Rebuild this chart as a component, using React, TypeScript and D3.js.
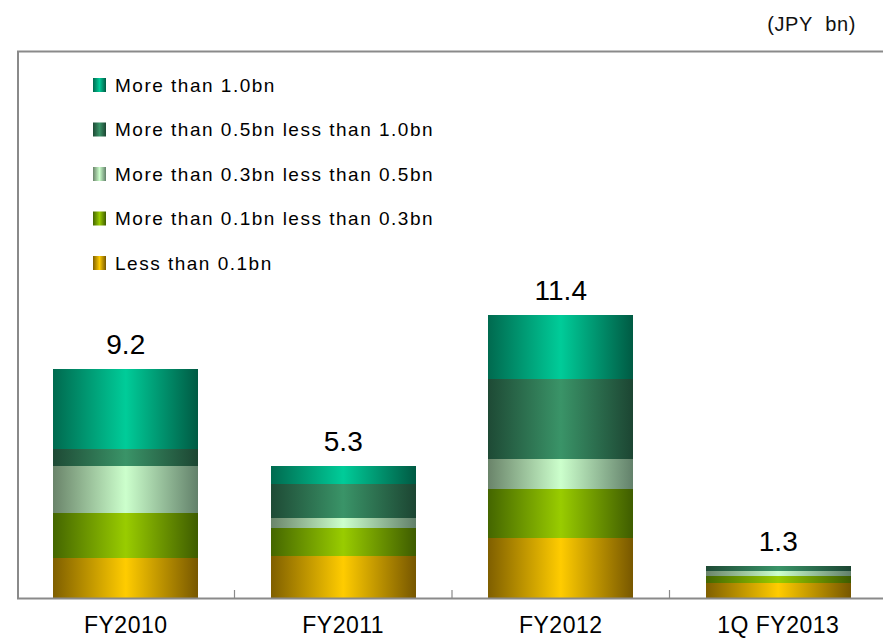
import React from "react";
import * as d3 from "d3";

// Categories and stacked series (JPY bn)
const categories = ["FY2010", "FY2011", "FY2012", "1Q FY2013"];
const lessThan01 = [1.6, 1.7, 2.4, 0.6];
const from01to03 = [1.8, 1.1, 2.0, 0.3];
const from03to05 = [1.9, 0.4, 1.2, 0.2];
const from05to10 = [0.7, 1.4, 3.2, 0.2];
const moreThan10 = [3.2, 0.7, 2.6, 0.0];

// Series keys and legend labels, bottom of the stack first
const seriesKeys = ["lt01", "r0103", "r0305", "r0510", "gt10"];
const seriesLabels = [
  "Less than 0.1bn",
  "More than 0.1bn less than 0.3bn",
  "More than 0.3bn less than 0.5bn",
  "More than 0.5bn less than 1.0bn",
  "More than 1.0bn",
];
const seriesValues = [lessThan01, from01to03, from03to05, from05to10, moreThan10];

// Cylinder-like horizontal shading: [edge left, centre, edge right]
const seriesShades = [
  ["#7f5f00", "#ffcc00", "#775700"],
  ["#446600", "#99cc00", "#3e5c00"],
  ["#6a846a", "#ccffcc", "#62806a"],
  ["#1e4a35", "#3a9468", "#1c4532"],
  ["#006a4f", "#00cc99", "#005a43"],
];

const unitLabel = "(JPY\u00a0 bn)";

const W = 883;
const H = 638;
const plotLeft = 17;
const plotRight = 887;
const plotTop = 51;
const plotBottom = 598;
const yMax = 22;

export default function App() {
  const rows = categories.map((c, i) => {
    const r: Record<string, any> = { category: c };
    seriesKeys.forEach((k, s) => (r[k] = seriesValues[s][i]));
    return r;
  });
  const stacked = d3.stack<any>().keys(seriesKeys)(rows);
  const totals = rows.map((r) => d3.sum(seriesKeys, (k) => r[k]));

  const x = d3
    .scaleBand<string>()
    .domain(categories)
    .range([plotLeft, plotRight])
    .paddingInner(1 / 3)
    .paddingOuter(1 / 6);
  const y = d3.scaleLinear().domain([0, yMax]).range([plotBottom, plotTop]);

  const step = x.step();
  const tickXs = d3.range(1, categories.length).map((i) => plotLeft + step * i);

  const font = "'Liberation Sans', Arial, sans-serif";

  return (
    <svg
      width={W}
      height={H}
      style={{ position: "absolute", left: 0, top: 0, display: "block", background: "#fff" }}
    >
      <defs>
        {seriesShades.map((sh, i) => (
          <linearGradient key={i} id={`shade-${i}`} x1="0" y1="0" x2="1" y2="0">
            <stop offset="0" stopColor={sh[0]} />
            <stop offset="0.5" stopColor={sh[1]} />
            <stop offset="1" stopColor={sh[2]} />
          </linearGradient>
        ))}
      </defs>

      {/* unit caption */}
      <text
        x={856}
        y={31}
        textAnchor="end"
        fontFamily={font}
        fontSize={20}
        letterSpacing={0.6}
        fill="#111"
      >
        {unitLabel}
      </text>

      {/* stacked bars */}
      {stacked.map((layer, s) => (
        <g key={layer.key} fill={`url(#shade-${s})`} shapeRendering="crispEdges">
          {layer.map((d, i) => {
            const h = y(d[0]) - y(d[1]);
            if (h <= 0) return null;
            return (
              <rect
                key={i}
                x={x(categories[i])}
                y={y(d[1])}
                width={x.bandwidth()}
                height={h}
              />
            );
          })}
        </g>
      ))}

      {/* frame */}
      <line x1={plotLeft} x2={W} y1={plotTop + 0.5} y2={plotTop + 0.5} stroke="#8a8a8a" strokeWidth={2} />
      <line x1={plotLeft + 1} x2={plotLeft + 1} y1={plotTop} y2={plotBottom + 1} stroke="#8a8a8a" strokeWidth={2} />
      <line x1={plotLeft} x2={W} y1={plotBottom + 0.5} y2={plotBottom + 0.5} stroke="#8a8a8a" strokeWidth={2} />
      {tickXs.map((tx, i) => (
        <line key={i} x1={tx} x2={tx} y1={plotBottom - 8} y2={plotBottom} stroke="#8a8a8a" strokeWidth={1.2} />
      ))}

      {/* totals */}
      {totals.map((t, i) => (
        <text
          key={i}
          x={(x(categories[i]) as number) + x.bandwidth() / 2}
          y={y(t) - 15}
          textAnchor="middle"
          fontFamily={font}
          fontSize={28}
          fill="#000"
        >
          {t.toFixed(1)}
        </text>
      ))}

      {/* category labels */}
      {categories.map((c) => (
        <text
          key={c}
          x={(x(c) as number) + x.bandwidth() / 2}
          y={633}
          textAnchor="middle"
          fontFamily={font}
          fontSize={23}
          letterSpacing={0.5}
          fill="#000"
        >
          {c}
        </text>
      ))}

      {/* legend, top entry is the top of the stack */}
      {seriesLabels
        .map((label, s) => ({ label, s }))
        .reverse()
        .map(({ label, s }, row) => {
          const cy = 85 + row * 44.5;
          return (
            <g key={label}>
              <rect x={93} y={cy - 7} width={13} height={14} fill={`url(#shade-${s})`} />
              <text
                x={115}
                y={cy + 6.5}
                fontFamily={font}
                fontSize={19}
                letterSpacing={1.5}
                fill="#000"
              >
                {label}
              </text>
            </g>
          );
        })}
    </svg>
  );
}
